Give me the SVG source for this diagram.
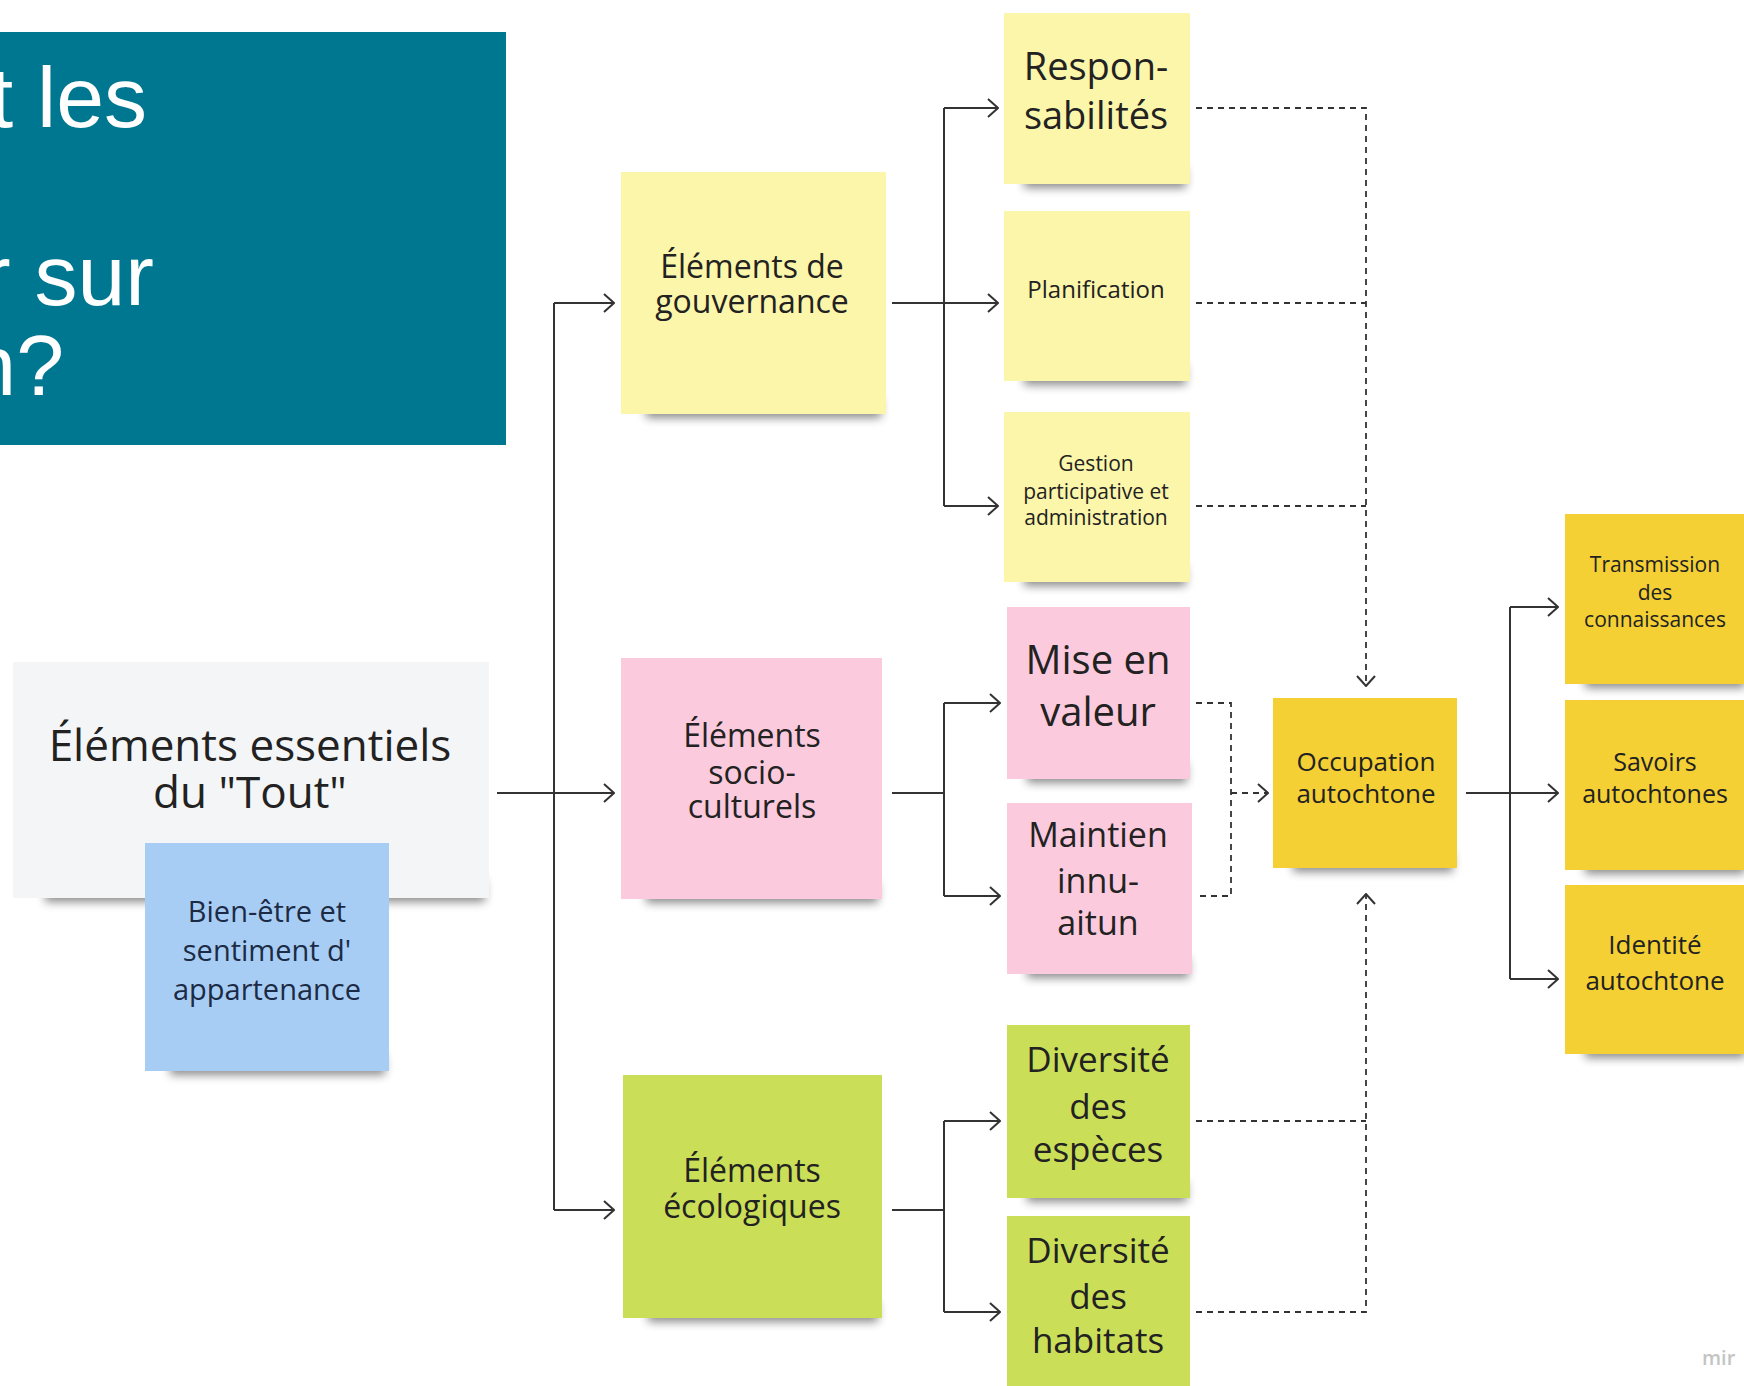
<svg xmlns="http://www.w3.org/2000/svg" width="1744" height="1386" viewBox="0 0 1744 1386">
<style>
text{font-family:"Open Sans","DejaVu Sans",sans-serif;fill:#222;text-anchor:middle}
.title{font-family:"Liberation Sans",Arial,sans-serif;fill:#fff;text-anchor:end;font-size:86px}
.sh{fill:#000;opacity:.45;filter:url(#blur)}
.y{fill:#fcf6aa}
.p{fill:#fbcadd}
.g{fill:#cbde58}
.o{fill:#f4d034}
.ln{fill:none;stroke:#333;stroke-width:2}
.dl{fill:none;stroke:#333;stroke-width:1.8;stroke-dasharray:6 5}
</style>
<defs>
<filter id="blur" x="-20%" y="-100%" width="140%" height="300%"><feGaussianBlur stdDeviation="5"/></filter>
<marker id="ar" viewBox="0 0 12 20" refX="11" refY="10" markerWidth="12" markerHeight="20" markerUnits="userSpaceOnUse" orient="auto">
<path d="M1,1 L11,10 L1,19" fill="none" stroke="#333" stroke-width="2"/>
</marker>
</defs>
<rect width="1744" height="1386" fill="#fff"/>

<g id="title">
<rect x="0" y="32" width="506" height="413" fill="#007790"/>
<text class="title" x="147" y="127">t les</text>
<text class="title" x="154" y="305">r sur</text>
<text class="title" x="64" y="395">n?</text>
</g>

<g id="connectors">
<path class="ln" d="M497,793 H554 M554,303 V1210"/>
<path class="ln" d="M554,303 H614" marker-end="url(#ar)"/>
<path class="ln" d="M554,793 H614" marker-end="url(#ar)"/>
<path class="ln" d="M554,1210 H614" marker-end="url(#ar)"/>
<path class="ln" d="M892,303 H944 M944,108 V506"/>
<path class="ln" d="M944,108 H998" marker-end="url(#ar)"/>
<path class="ln" d="M944,303 H998" marker-end="url(#ar)"/>
<path class="ln" d="M944,506 H998" marker-end="url(#ar)"/>
<path class="ln" d="M892,793 H944 M944,703 V896"/>
<path class="ln" d="M944,703 H1000" marker-end="url(#ar)"/>
<path class="ln" d="M944,896 H1000" marker-end="url(#ar)"/>
<path class="ln" d="M892,1210 H944 M944,1121 V1312"/>
<path class="ln" d="M944,1121 H1000" marker-end="url(#ar)"/>
<path class="ln" d="M944,1312 H1000" marker-end="url(#ar)"/>
<path class="ln" d="M1466,793 H1510 M1510,607 V979"/>
<path class="ln" d="M1510,607 H1558" marker-end="url(#ar)"/>
<path class="ln" d="M1510,793 H1558" marker-end="url(#ar)"/>
<path class="ln" d="M1510,979 H1558" marker-end="url(#ar)"/>
<path class="dl" d="M1196,108 H1366 V686" marker-end="url(#ar)"/>
<path class="dl" d="M1196,303 H1366"/>
<path class="dl" d="M1196,506 H1366"/>
<path class="dl" d="M1196,703 H1231 V896 H1196"/>
<path class="dl" d="M1231,793 H1268" marker-end="url(#ar)"/>
<path class="dl" d="M1196,1121 H1366"/>
<path class="dl" d="M1196,1312 H1366 V894" marker-end="url(#ar)"/>
</g>

<g id="n-tout">
<rect class="sh" x="45" y="880" width="440" height="22"/>
<rect x="13" y="662" width="476" height="236" fill="#f4f5f7"/>
<text x="250" y="761" font-size="44">Éléments essentiels</text>
<text x="250" y="808" font-size="44">du "Tout"</text>
</g>
<g id="n-bienetre">
<rect class="sh" x="170" y="1055" width="215" height="20"/>
<rect x="145" y="843" width="244" height="228" fill="#a8cdf4"/>
<text x="267" y="922" font-size="29" style="fill:#1c2b45">Bien-être et</text>
<text x="267" y="961" font-size="29" style="fill:#1c2b45">sentiment d'</text>
<text x="267" y="1000" font-size="29" style="fill:#1c2b45">appartenance</text>
</g>

<g id="n-gouv">
<rect class="sh" x="646" y="398" width="235" height="20"/>
<rect class="y" x="621" y="172" width="265" height="242"/>
<text x="752" y="278" font-size="32">Éléments de</text>
<text x="752" y="313" font-size="32">gouvernance</text>
</g>
<g id="n-socio">
<rect class="sh" x="646" y="883" width="232" height="20"/>
<rect class="p" x="621" y="658" width="261" height="241"/>
<text x="752" y="747" font-size="32">Éléments</text>
<text x="752" y="784" font-size="32">socio-</text>
<text x="752" y="818" font-size="32">culturels</text>
</g>
<g id="n-eco">
<rect class="sh" x="648" y="1302" width="230" height="20"/>
<rect class="g" x="623" y="1075" width="259" height="243"/>
<text x="752" y="1182" font-size="32">Éléments</text>
<text x="752" y="1218" font-size="32">écologiques</text>
</g>

<g id="n-respon">
<rect class="sh" x="1024" y="168" width="162" height="20"/>
<rect class="y" x="1004" y="13" width="186" height="171"/>
<text x="1096" y="80" font-size="38">Respon-</text>
<text x="1096" y="129" font-size="38">sabilités</text>
</g>
<g id="n-planif">
<rect class="sh" x="1024" y="365" width="162" height="20"/>
<rect class="y" x="1004" y="211" width="186" height="170"/>
<text x="1096" y="298" font-size="24">Planification</text>
</g>
<g id="n-gestion">
<rect class="sh" x="1024" y="566" width="162" height="20"/>
<rect class="y" x="1004" y="412" width="186" height="170"/>
<text x="1096" y="471" font-size="21">Gestion</text>
<text x="1096" y="499" font-size="21">participative et</text>
<text x="1096" y="525" font-size="21">administration</text>
</g>
<g id="n-mise">
<rect class="sh" x="1027" y="763" width="160" height="20"/>
<rect class="p" x="1007" y="607" width="183" height="172"/>
<text x="1098" y="674" font-size="40">Mise en</text>
<text x="1098" y="726" font-size="40">valeur</text>
</g>
<g id="n-maintien">
<rect class="sh" x="1027" y="958" width="162" height="20"/>
<rect class="p" x="1007" y="803" width="185" height="171"/>
<text x="1098" y="847" font-size="34">Maintien</text>
<text x="1098" y="893" font-size="34">innu-</text>
<text x="1098" y="935" font-size="34">aitun</text>
</g>
<g id="n-especes">
<rect class="sh" x="1027" y="1182" width="160" height="20"/>
<rect class="g" x="1007" y="1025" width="183" height="173"/>
<text x="1098" y="1072" font-size="35">Diversité</text>
<text x="1098" y="1119" font-size="35">des</text>
<text x="1098" y="1162" font-size="35">espèces</text>
</g>
<g id="n-habitats">
<rect class="g" x="1007" y="1216" width="183" height="180"/>
<text x="1098" y="1263" font-size="35">Diversité</text>
<text x="1098" y="1309" font-size="35">des</text>
<text x="1098" y="1353" font-size="35">habitats</text>
</g>

<g id="n-occupation">
<rect class="sh" x="1293" y="852" width="160" height="20"/>
<rect class="o" x="1273" y="698" width="184" height="170"/>
<text x="1366" y="771" font-size="26">Occupation</text>
<text x="1366" y="803" font-size="26">autochtone</text>
</g>
<g id="n-transmission">
<rect class="sh" x="1585" y="668" width="160" height="20"/>
<rect class="o" x="1565" y="514" width="185" height="170"/>
<text x="1655" y="572" font-size="21">Transmission</text>
<text x="1655" y="600" font-size="21">des</text>
<text x="1655" y="627" font-size="21">connaissances</text>
</g>
<g id="n-savoirs">
<rect class="sh" x="1585" y="854" width="160" height="20"/>
<rect class="o" x="1565" y="700" width="185" height="170"/>
<text x="1655" y="771" font-size="25">Savoirs</text>
<text x="1655" y="803" font-size="25">autochtones</text>
</g>
<g id="n-identite">
<rect class="sh" x="1585" y="1038" width="160" height="20"/>
<rect class="o" x="1565" y="885" width="185" height="169"/>
<text x="1655" y="954" font-size="26">Identité</text>
<text x="1655" y="990" font-size="26">autochtone</text>
</g>

<text x="1702" y="1365" font-size="20" style="fill:#c4c4c4;text-anchor:start;font-weight:600">mir</text>
</svg>
